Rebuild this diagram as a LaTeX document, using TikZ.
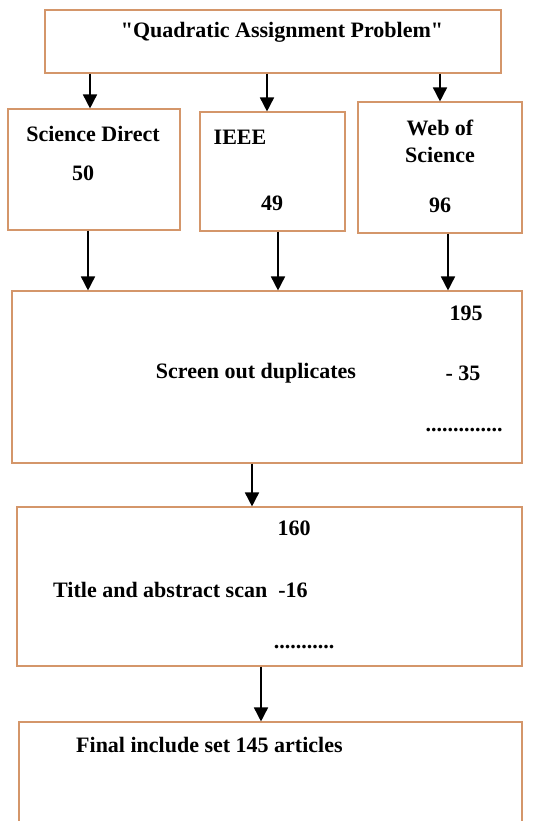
\documentclass[tikz,border=0pt]{standalone}
\usepackage{fontspec}
\setmainfont{Liberation Serif}
\usetikzlibrary{arrows.meta,calc}
\definecolor{boxline}{RGB}{212,150,106}

\begin{document}
\begin{tikzpicture}[x=1pt,y=-1pt]
\tikzstyle{every node}+=[inner sep=0pt]
\tikzstyle{box}=[draw=boxline, line width=1.1pt]
\tikzstyle{txt}=[font=\fontsize{22}{27}\selectfont\bfseries]
\tikzstyle{arr}=[black, line width=1.6pt, -{Triangle[width=14pt,length=14pt]}]
\useasboundingbox (0,0) rectangle (533,821);
% boxes
\node [box, minimum width=456pt, minimum height=63pt] (qap) at (273,41.5) {};
\node [box, minimum width=172pt, minimum height=121pt] (sd) at (94,169.5) {};
\node [box, minimum width=145pt, minimum height=119pt] (ieee) at (272.5,171.5) {};
\node [box, minimum width=164pt, minimum height=131pt] (wos) at (440,167.5) {};
\node [box, minimum width=510pt, minimum height=172pt] (screen) at (267,377) {};
\node [box, minimum width=505pt, minimum height=159pt] (title) at (269.5,586.5) {};
\node [box, minimum width=503pt, minimum height=110pt] (final) at (270.5,777) {};
% texts
\node [txt] (qaptext) at (282,32) {\textquotedbl Quadratic Assignment Problem\textquotedbl};
\node [txt] (sdtext) at (93,134) {Science Direct};
\node [txt] (sdnum) at (83,173) {50};
\node [txt] (ieeetext) at (240,137) {IEEE};
\node [txt] (ieeenum) at (272,203) {49};
\node [txt, align=center] (wostext) at (440,141) {Web of\\Science};
\node [txt] (wosnum) at (440,205) {96};
\node [txt] (scrnum) at (466,313) {195};
\node [txt] (scrtext) at (256,373) {Screen out duplicates};
\node [txt] (scrminus) at (463,373) {- 35};
\node [txt] (scrdots) at (464,430) {..............};
\node [txt] (titnum) at (294,528) {160};
\node [txt, anchor=west] (tittext) at (53,590) {Title and abstract scan\ \ -16};
\node [txt] (titdots) at (304,647) {...........};
\node [txt, anchor=west] (fintext) at (76,745) {Final include set 145 articles};
% arrows
\draw [arr] ($(qap.south)+(-183,0)$) -- ($(sd.north)+(-4,0)$);
\draw [arr] ($(qap.south)+(-6,0)$) -- ($(ieee.north)+(-5.5,0)$);
\draw [arr] ($(qap.south)+(167,0)$) -- (wos.north);
\draw [arr] ($(sd.south)+(-6,0)$) -- ($(screen.north)+(-179,0)$);
\draw [arr] ($(ieee.south)+(5.5,0)$) -- ($(screen.north)+(11,0)$);
\draw [arr] ($(wos.south)+(8,0)$) -- ($(screen.north)+(181,0)$);
\draw [arr] ($(screen.south)+(-15,0)$) -- ($(title.north)+(-17.5,0)$);
\draw [arr] ($(title.south)+(-8.5,0)$) -- ($(final.north)+(-9.5,0)$);
\end{tikzpicture}
\end{document}
